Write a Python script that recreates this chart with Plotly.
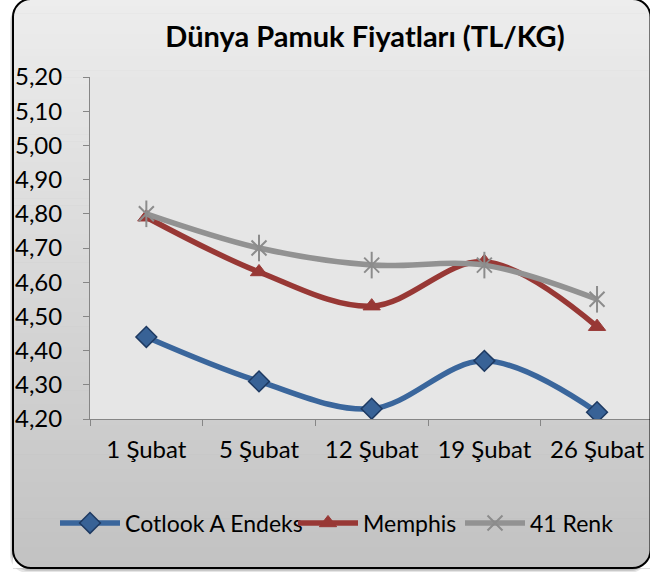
import plotly.graph_objects as go

# ---- data ----
categories = ["1 Şubat", "5 Şubat", "12 Şubat", "19 Şubat", "26 Şubat"]
cotlook = [4.44, 4.31, 4.23, 4.37, 4.22]
memphis = [4.79, 4.63, 4.53, 4.66, 4.47]
renk41 = [4.80, 4.70, 4.65, 4.65, 4.55]
y_ticks = [4.20, 4.30, 4.40, 4.50, 4.60, 4.70, 4.80, 4.90, 5.00, 5.10, 5.20]
title_text = "Dünya Pamuk Fiyatları (TL/KG)"

W, H = 650, 572
ML, MR, MT, MB = 90, 0, 77, 153
PW, PH = W - ML - MR, H - MT - MB

def px(x):
    return (x - ML) / PW

def py(y):
    return (H - MB - y) / PH

FONT = "Lato"

fig = go.Figure()

blue = "rgb(58,102,156)"
red = "rgb(152,56,53)"
gray = "rgb(146,146,146)"

fig.add_trace(go.Scatter(
    x=categories, y=cotlook, name="Cotlook A Endeks", mode="lines+markers", legend="legend",
    line=dict(color=blue, width=5.5, shape="spline", smoothing=1.0),
    marker=dict(symbol="diamond", size=16, color="rgb(56,98,150)",
                line=dict(color="rgb(30,58,98)", width=1.5)),
))
fig.add_trace(go.Scatter(
    x=categories, y=memphis, name="Memphis", mode="lines+markers", legend="legend2",
    line=dict(color=red, width=5.5, shape="spline", smoothing=1.0),
    marker=dict(symbol="triangle-up", size=15, color=red,
                line=dict(color=red, width=1)),
))
fig.add_trace(go.Scatter(
    x=categories, y=renk41, name="41 Renk", mode="lines+markers", legend="legend3",
    line=dict(color=gray, width=5.5, shape="spline", smoothing=1.0),
    marker=dict(symbol="x-thin-open", size=15, color="rgb(140,140,140)",
                line=dict(color="rgb(140,140,140)", width=2)),
))
fig.add_trace(go.Scatter(
    x=categories, y=renk41, name="41 Renk", mode="markers", showlegend=False,
    marker=dict(symbol="line-ns-open", size=19, color="rgb(140,140,140)",
                line=dict(color="rgb(140,140,140)", width=2)),
    hoverinfo="skip",
))

shapes = []

def rr_path(x0, y0, x1, y1, r):
    k = 0.5523 * r
    pts = []
    pts.append(f"M {px(x0 + r)},{py(y0)}")
    pts.append(f"L {px(x1 - r)},{py(y0)}")
    pts.append(f"C {px(x1 - r + k)},{py(y0)} {px(x1)},{py(y0 + r - k)} {px(x1)},{py(y0 + r)}")
    pts.append(f"L {px(x1)},{py(y1 - r)}")
    pts.append(f"C {px(x1)},{py(y1 - r + k)} {px(x1 - r + k)},{py(y1)} {px(x1 - r)},{py(y1)}")
    pts.append(f"L {px(x0 + r)},{py(y1)}")
    pts.append(f"C {px(x0 + r - k)},{py(y1)} {px(x0)},{py(y1 - r + k)} {px(x0)},{py(y1 - r)}")
    pts.append(f"L {px(x0)},{py(y0 + r)}")
    pts.append(f"C {px(x0)},{py(y0 + r - k)} {px(x0 + r - k)},{py(y0)} {px(x0 + r)},{py(y0)}")
    pts.append("Z")
    return " ".join(pts)

BX0, BY0, BX1, BY1, R = 13, -1, 650.5, 568, 18

# soft shadow
for off, op in [(5, 0.10), (3, 0.12), (1.5, 0.15)]:
    shapes.append(dict(type="path", xref="paper", yref="paper", layer="below",
                       path=rr_path(BX0 - off * 0.6, BY0 + off, BX1 - off * 0.6, BY1 + off, R),
                       fillcolor=f"rgba(0,0,0,{op})", line=dict(width=0)))

# gradient background strips
n = 80
top_c, bot_c = 237, 194
for i in range(n):
    y0 = BY0 + (BY1 - BY0) * i / n
    y1 = BY0 + (BY1 - BY0) * (i + 1) / n + 0.6
    t = (i + 0.5) / n
    c = round(top_c + (bot_c - top_c) * t)
    shapes.append(dict(type="rect", xref="paper", yref="paper", layer="below",
                       x0=px(BX0), x1=px(BX1), y0=py(y0), y1=py(y1),
                       fillcolor=f"rgb({c},{c},{c})", line=dict(width=0)))

# white corner masks
k = 0.5523 * R
def corner_mask(cx, cy, sx, sy):
    ax, ay = cx + sx * R, cy
    bx, by = cx, cy + sy * R
    return (f"M {px(cx)},{py(cy)} L {px(ax)},{py(ay)} "
            f"C {px(ax - sx * k)},{py(ay)} {px(bx)},{py(by - sy * k)} {px(bx)},{py(by)} Z")

for cx, cy, sx, sy in [(BX0, BY0, 1, 1), (BX1, BY0, -1, 1), (BX0, BY1, 1, -1), (BX1, BY1, -1, -1)]:
    shapes.append(dict(type="path", xref="paper", yref="paper", layer="below",
                       path=corner_mask(cx, cy, sx, sy),
                       fillcolor="white", line=dict(width=0)))
# plot area fill
shapes.append(dict(type="rect", xref="paper", yref="paper", layer="below",
                   x0=0, x1=1, y0=0, y1=1, fillcolor="rgb(230,230,230)", line=dict(width=0)))
# border
shapes.append(dict(type="path", xref="paper", yref="paper", layer="above",
                   path=rr_path(BX0, BY0, BX1, BY1, R),
                   fillcolor="rgba(0,0,0,0)", line=dict(color="black", width=2)))

LEG_FONT = dict(family=FONT, size=23, color="black")
def leg(xpix):
    return dict(orientation="h", x=px(xpix), xanchor="left", y=py(523), yanchor="middle",
                bgcolor="rgba(0,0,0,0)", font=LEG_FONT, borderwidth=0, itemwidth=60)

fig.update_layout(
    width=W, height=H,
    margin=dict(l=ML, r=MR, t=MT, b=MB, pad=0),
    paper_bgcolor="white",
    plot_bgcolor="rgba(0,0,0,0)",
    separators=",.",
    font=dict(family=FONT, size=24, color="black"),
    title=dict(text=f"<b>{title_text}</b>", font=dict(family=FONT, size=29, color="black"),
               x=px(365), xref="paper", xanchor="center",
               y=1 - 37 / H, yref="container", yanchor="middle"),
    shapes=shapes,
    showlegend=True,
    legend=leg(55),
    legend2=leg(293),
    legend3=leg(460),
    xaxis=dict(
        type="category", range=[-0.5, 4.47], showgrid=False, zeroline=False,
        showline=True, linecolor="rgb(134,134,134)", linewidth=1,
        ticks="outside", ticklen=6, tickcolor="rgb(134,134,134)", tickson="boundaries",
        ticklabelstandoff=9, tickfont=dict(family=FONT, size=24, color="black"),
    ),
    yaxis=dict(
        range=[4.20, 5.20], tickvals=y_ticks, tickformat=".2f", showgrid=False, zeroline=False,
        showline=True, linecolor="rgb(134,134,134)", linewidth=1,
        ticks="outside", ticklen=6, tickcolor="rgb(134,134,134)",
        ticklabelstandoff=16, tickfont=dict(family=FONT, size=24, color="black"),
    ),
)

fig.write_html(
    "out.html",
    config={"displayModeBar": False},
    post_script="document.body.style.margin='0';document.body.style.overflow='hidden';",
)
